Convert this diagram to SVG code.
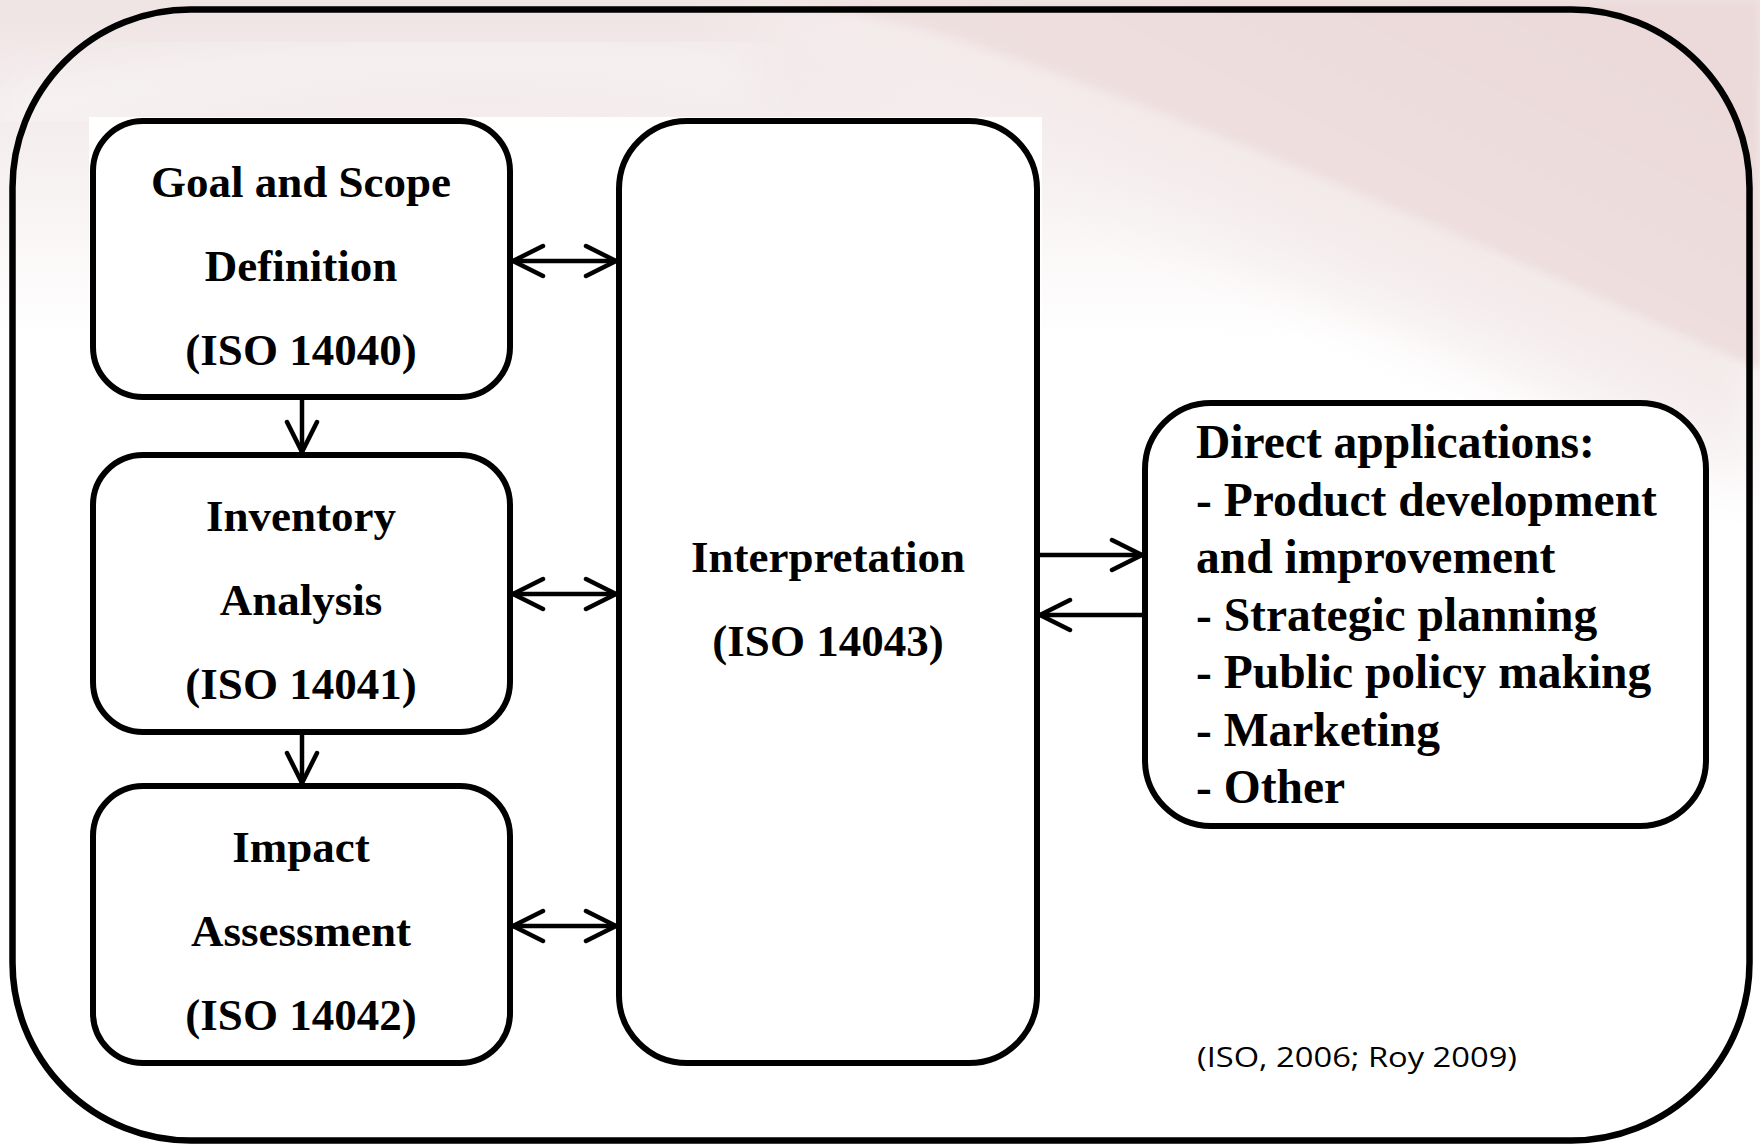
<svg xmlns="http://www.w3.org/2000/svg" width="1760" height="1144" viewBox="0 0 1760 1144">
  <defs>
    <style>
      .box { fill: #ffffff; stroke: #000000; stroke-width: 6; }
      .frame { fill: none; stroke: #000000; stroke-width: 6.5; }
      .lbl { font-family: "Liberation Serif", "Times New Roman", serif; font-weight: bold; font-size: 45px; fill: #000000; text-anchor: middle; }
      .list { font-family: "Liberation Serif", "Times New Roman", serif; font-weight: bold; font-size: 47.5px; fill: #000000; }
      .cite { font-family: "Open Sans", "Noto Sans", "Liberation Sans", sans-serif; font-size: 28px; fill: #000000; }
      .conn { fill: none; stroke: #000000; stroke-width: 4.5; }
    </style>
    <!-- soft page tint -->
    <linearGradient id="tint" x1="0" y1="0" x2="0" y2="1">
      <stop offset="0" stop-color="#efe4e4"/>
      <stop offset="0.4" stop-color="#f5eeee"/>
      <stop offset="1" stop-color="#ffffff"/>
    </linearGradient>
    <!-- diagonal swoosh, upper right -->
    <linearGradient id="swoosh" gradientUnits="userSpaceOnUse" x1="1500" y1="0" x2="1320" y2="360">
      <stop offset="0" stop-color="#ecdada"/>
      <stop offset="1" stop-color="#f0e2e2"/>
    </linearGradient>
    <linearGradient id="fade" gradientUnits="userSpaceOnUse" x1="1250" y1="160" x2="1120" y2="440">
      <stop offset="0" stop-color="#f3e9e9" stop-opacity="1"/>
      <stop offset="1" stop-color="#ffffff" stop-opacity="0"/>
    </linearGradient>
    <filter id="soft" x="-10%" y="-10%" width="120%" height="120%">
      <feGaussianBlur stdDeviation="4"/>
    </filter>
    <filter id="blurWide" x="-20%" y="-20%" width="140%" height="140%">
      <feGaussianBlur stdDeviation="25"/>
    </filter>
    <marker id="ah" viewBox="-3 -3 36 36" refX="30" refY="15" markerWidth="36" markerHeight="36" markerUnits="userSpaceOnUse" orient="auto-start-reverse">
      <path d="M0,0 L30,15 L0,30" fill="none" stroke="#000000" stroke-width="4.5" stroke-linecap="round" stroke-linejoin="round"/>
    </marker>
  </defs>

  <!-- background -->
  <g id="background">
    <rect x="0" y="0" width="1760" height="1144" fill="#ffffff"/>
    <rect x="0" y="0" width="1760" height="340" fill="url(#tint)"/>
    <path d="M700,0 L1760,0 L1760,500 C1560,410 1300,300 1100,200 C950,130 820,60 700,0 Z" fill="url(#fade)" filter="url(#blurWide)"/>
    <path d="M760,0 L1760,0 L1760,370 C1500,250 1200,120 960,40 C880,15 820,5 760,0 Z" fill="url(#swoosh)" filter="url(#soft)"/>
    <path d="M0,110 C250,50 500,40 760,70" fill="none" stroke="#ffffff" stroke-opacity="0.45" stroke-width="40" filter="url(#blurWide)"/>
    <rect x="89" y="117" width="953" height="950" fill="#ffffff"/>
  </g>

  <!-- outer frame -->
  <rect class="frame" x="12.5" y="9.5" width="1737" height="1131" rx="178" ry="178"/>

  <!-- connectors -->
  <g id="connectors">
    <line class="conn" x1="513" y1="261" x2="616" y2="261" marker-start="url(#ah)" marker-end="url(#ah)"/>
    <line class="conn" x1="513" y1="594" x2="616" y2="594" marker-start="url(#ah)" marker-end="url(#ah)"/>
    <line class="conn" x1="513" y1="926" x2="616" y2="926" marker-start="url(#ah)" marker-end="url(#ah)"/>
    <line class="conn" x1="302" y1="400" x2="302" y2="452" marker-end="url(#ah)"/>
    <line class="conn" x1="302" y1="735" x2="302" y2="783" marker-end="url(#ah)"/>
    <line class="conn" x1="1040" y1="555" x2="1142" y2="555" marker-end="url(#ah)"/>
    <line class="conn" x1="1142" y1="615" x2="1040" y2="615" marker-end="url(#ah)"/>
  </g>

  <!-- Goal and scope -->
  <g id="goal-scope">
    <rect class="box" x="93" y="121" width="417" height="276" rx="50" ry="50"/>
    <text class="lbl" x="301" y="197">Goal and Scope</text>
    <text class="lbl" x="301" y="281">Definition</text>
    <text class="lbl" x="301" y="365">(ISO 14040)</text>
  </g>

  <!-- Inventory analysis -->
  <g id="inventory-analysis">
    <rect class="box" x="93" y="455" width="417" height="277" rx="50" ry="50"/>
    <text class="lbl" x="301" y="531">Inventory</text>
    <text class="lbl" x="301" y="615">Analysis</text>
    <text class="lbl" x="301" y="699">(ISO 14041)</text>
  </g>

  <!-- Impact assessment -->
  <g id="impact-assessment">
    <rect class="box" x="93" y="786" width="417" height="277" rx="50" ry="50"/>
    <text class="lbl" x="301" y="862">Impact</text>
    <text class="lbl" x="301" y="946">Assessment</text>
    <text class="lbl" x="301" y="1030">(ISO 14042)</text>
  </g>

  <!-- Interpretation -->
  <g id="interpretation">
    <rect class="box" x="619" y="121" width="418" height="942" rx="68" ry="68"/>
    <text class="lbl" x="828" y="572">Interpretation</text>
    <text class="lbl" x="828" y="656">(ISO 14043)</text>
  </g>

  <!-- Direct applications -->
  <g id="direct-applications">
    <rect class="box" x="1145" y="403" width="561" height="423" rx="66" ry="66"/>
    <text class="list" x="1196" y="458">Direct applications:</text>
    <text class="list" x="1196" y="516">- Product development</text>
    <text class="list" x="1196" y="573">and improvement</text>
    <text class="list" x="1196" y="631">- Strategic planning</text>
    <text class="list" x="1196" y="688">- Public policy making</text>
    <text class="list" x="1196" y="746">- Marketing</text>
    <text class="list" x="1196" y="803">- Other</text>
  </g>

  <!-- source note -->
  <text id="source" class="cite" x="1197" y="1067" textLength="320" lengthAdjust="spacingAndGlyphs">(ISO, 2006; Roy 2009)</text>
</svg>
